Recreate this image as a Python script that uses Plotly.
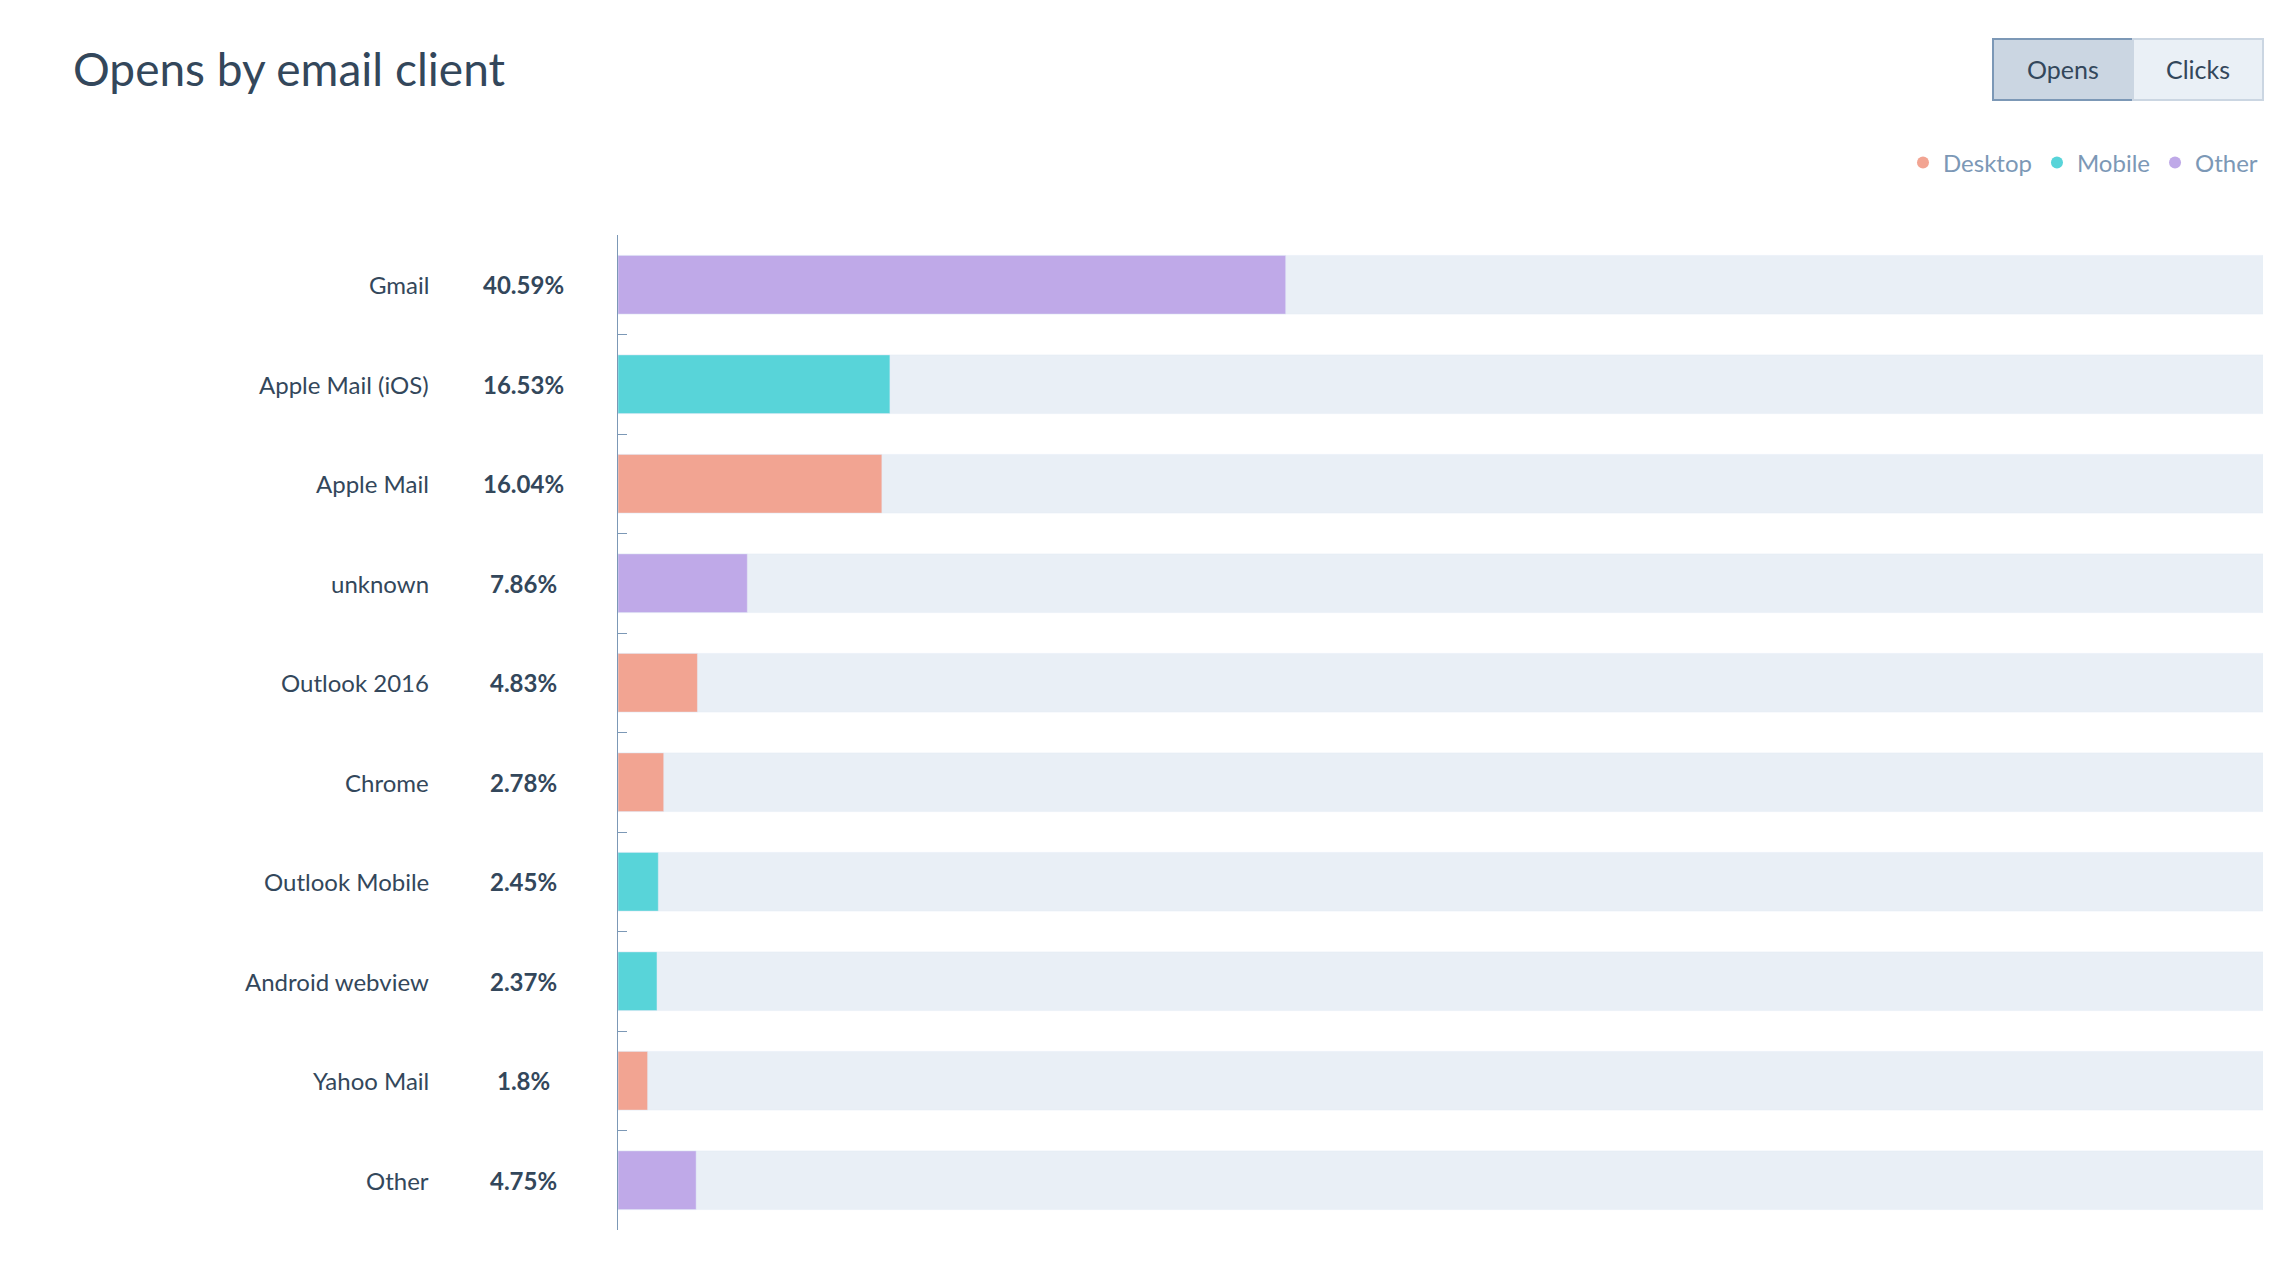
import plotly.graph_objects as go

clients = ["Gmail", "Apple Mail (iOS)", "Apple Mail", "unknown", "Outlook 2016", "Chrome",
           "Outlook Mobile", "Android webview", "Yahoo Mail", "Other"]
values = [40.59, 16.53, 16.04, 7.86, 4.83, 2.78, 2.45, 2.37, 1.8, 4.75]
labels = ["40.59%", "16.53%", "16.04%", "7.86%", "4.83%", "2.78%", "2.45%", "2.37%", "1.8%", "4.75%"]
kinds = ["Other", "Mobile", "Desktop", "Other", "Desktop", "Desktop", "Mobile", "Mobile", "Desktop", "Other"]
kind_order = ["Desktop", "Mobile", "Other"]
colors = {"Desktop": "#f2a492", "Mobile": "#58d4d9", "Other": "#bfa9e8"}

W, H = 2296, 1270
L, R, T, B = 610, 2255, 227, 1222
pw, ph = R - L, B - T
def px(x): return (x - L) / pw
def py(y): return (B - y) / ph

fig = go.Figure()
fig.add_trace(go.Bar(y=clients, x=[100] * len(clients), orientation="h", marker_color="#e9eff6",
                     width=0.59, showlegend=False, hoverinfo="skip"))
for k in kind_order:
    ys = [c for c, kk in zip(clients, kinds) if kk == k]
    xs = [v for v, kk in zip(values, kinds) if kk == k]
    fig.add_trace(go.Bar(y=ys, x=xs, orientation="h", marker_color=colors[k], width=0.59,
                         showlegend=False, name=k))
    fig.add_trace(go.Scatter(x=[None], y=[None], mode="markers", name=k,
                             marker=dict(symbol="circle", size=20, color=colors[k])))

ann = []
for c, lab in zip(clients, labels):
    ann.append(dict(x=px(423), xref="paper", y=c, yref="y", text=c, showarrow=False, xanchor="right",
                    font=dict(size=24, color="#33475b")))
    ann.append(dict(x=px(515), xref="paper", y=c, yref="y", text="<b>" + lab + "</b>", showarrow=False,
                    xanchor="center", font=dict(size=24, color="#33475b")))
ann.append(dict(x=px(63), xref="paper", y=py(60), yref="paper", text="Opens by email client", showarrow=False,
                xanchor="left", yanchor="middle", font=dict(size=46, color="#33475b")))
ann.append(dict(x=px(2055), xref="paper", y=py(61), yref="paper", text="Opens", showarrow=False,
                xanchor="center", yanchor="middle", font=dict(size=25, color="#33475b")))
ann.append(dict(x=px(2190), xref="paper", y=py(61), yref="paper", text="Clicks", showarrow=False,
                xanchor="center", yanchor="middle", font=dict(size=25, color="#33475b")))

shapes = [
    dict(type="rect", xref="paper", yref="paper", x0=px(1985), x1=px(2125), y0=py(31), y1=py(92),
         fillcolor="#cbd6e2", line=dict(color="#7c98b6", width=2)),
    dict(type="rect", xref="paper", yref="paper", x0=px(2125), x1=px(2255), y0=py(31), y1=py(92),
         fillcolor="#eaf0f6", line=dict(color="#cbd6e2", width=2)),
]

fig.update_layout(
    width=W, height=H, paper_bgcolor="white", plot_bgcolor="white",
    margin=dict(l=L, r=W - R, t=T, b=H - B), barmode="overlay",
    font=dict(family="Lato, sans-serif", color="#33475b"),
    xaxis=dict(range=[0, 100], visible=False, fixedrange=True),
    yaxis=dict(categoryorder="array", categoryarray=clients[::-1], showticklabels=False,
               showline=True, linecolor="#7c98b6", linewidth=1, ticks="inside", ticklen=9,
               tickcolor="#7c98b6", tickson="boundaries", showgrid=False, range=[-0.5, 9.5]),
    legend=dict(orientation="h", x=1, xanchor="right", y=py(155), yanchor="middle",
                font=dict(size=24, color="#7c98b6"), itemsizing="constant"),
    annotations=ann, shapes=shapes,
)
fig.write_html("out.html")
